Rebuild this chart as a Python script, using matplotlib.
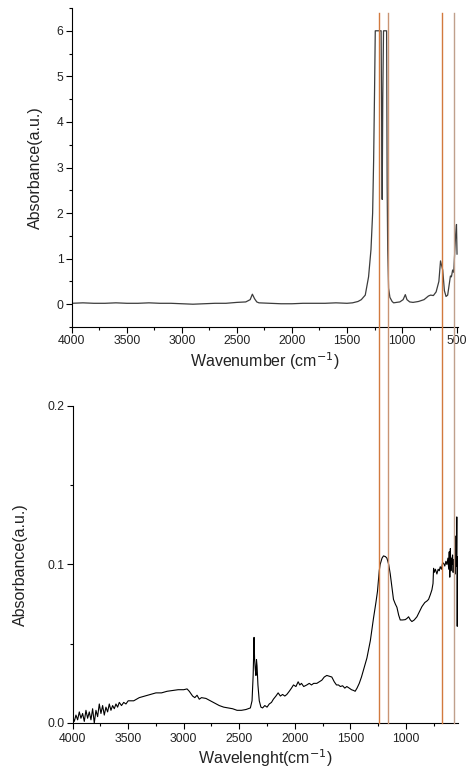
import matplotlib
matplotlib.use("Agg")
import matplotlib.pyplot as plt
from matplotlib.lines import Line2D
from matplotlib.ticker import MultipleLocator
from matplotlib.transforms import blended_transform_factory

plt.rcParams['font.family'] = ['Liberation Sans', 'DejaVu Sans']

# top panel: wavenumber (cm-1) / absorbance
top_wn = [4000, 3900, 3800, 3700, 3600, 3500, 3400, 3300, 3200, 3100, 3000, 2900,
          2800, 2700, 2600, 2500, 2420, 2380, 2360, 2340, 2320, 2300, 2200, 2100,
          2000, 1900, 1800, 1700, 1600, 1500, 1450, 1400, 1370, 1334, 1304, 1282,
          1267, 1258, 1250, 1243, 1190, 1185, 1180, 1175, 1168, 1140, 1135, 1130,
          1122, 1110, 1090, 1076, 1050, 1020, 990, 970, 955, 930, 900, 850, 800,
          760, 740, 715, 690, 665, 650, 630, 615, 600, 585, 570, 560, 551, 540,
          530, 521, 512, 505, 500]
top_abs = [0.02, 0.03, 0.02, 0.02, 0.03, 0.02, 0.02, 0.03, 0.02, 0.02, 0.01, 0.00,
           0.01, 0.02, 0.02, 0.04, 0.05, 0.10, 0.22, 0.12, 0.05, 0.03, 0.02, 0.01,
           0.01, 0.02, 0.02, 0.02, 0.03, 0.02, 0.03, 0.06, 0.10, 0.20, 0.60, 1.20,
           2.00, 3.15, 4.60, 6.00, 6.00, 4.00, 2.30, 4.50, 6.00, 6.00, 2.60, 1.20,
           0.35, 0.15, 0.06, 0.03, 0.04, 0.05, 0.10, 0.21, 0.10, 0.05, 0.04, 0.06,
           0.10, 0.18, 0.20, 0.19, 0.27, 0.50, 0.95, 0.75, 0.30, 0.17, 0.20, 0.45,
           0.62, 0.60, 0.75, 0.70, 1.14, 1.55, 1.75, 1.10]

# bottom panel
bot_wn = [4000, 3985, 3970, 3955, 3940, 3925, 3910, 3895, 3880, 3865, 3850, 3835,
          3820, 3805, 3790, 3775, 3760, 3745, 3730, 3715, 3700, 3685, 3670, 3655,
          3640, 3625, 3610, 3595, 3580, 3560, 3540, 3520, 3500, 3450, 3400, 3350,
          3300, 3250, 3200, 3150, 3100, 3050, 3000, 2970, 2950, 2920, 2900, 2880,
          2860, 2840, 2800, 2760, 2720, 2680, 2640, 2600, 2560, 2520, 2480, 2440,
          2400, 2385, 2375, 2367, 2362, 2356, 2350, 2345, 2340, 2332, 2320, 2305,
          2290, 2270, 2250, 2230, 2210, 2193, 2170, 2150, 2130, 2110, 2090, 2072,
          2050, 2030, 2012, 1990, 1970, 1955, 1940, 1920, 1892, 1870, 1850, 1830,
          1802, 1780, 1757, 1735, 1712, 1690, 1667, 1645, 1625, 1607, 1590, 1570,
          1550, 1532, 1510, 1490, 1470, 1457, 1440, 1420, 1400, 1380, 1351, 1320,
          1292, 1270, 1256, 1240, 1232, 1215, 1202, 1185, 1171, 1155, 1141, 1125,
          1112, 1095, 1081, 1065, 1051, 1030, 1006, 990, 976, 960, 946, 925, 901,
          880, 856, 830, 810, 796, 780, 766, 756, 751, 745, 735, 721, 710, 700,
          691, 680, 670, 661, 650, 640, 631, 622, 615, 610, 605, 600, 595, 590,
          586, 580, 575, 570, 565, 560, 555, 550, 546, 542, 538, 535, 530]
bot_abs = [0.004, 0.001, 0.005, 0.002, 0.007, 0.003, 0.006, 0.001, 0.008, 0.003, 0.007, 0.002,
           0.009, 0.000, 0.008, 0.004, 0.012, 0.006, 0.011, 0.005, 0.010, 0.007, 0.012, 0.008,
           0.011, 0.009, 0.012, 0.010, 0.013, 0.011, 0.013, 0.012, 0.014, 0.014, 0.016, 0.017,
           0.018, 0.019, 0.019, 0.020, 0.0205, 0.021, 0.021, 0.0215, 0.020, 0.017, 0.016, 0.0175,
           0.015, 0.016, 0.0155, 0.014, 0.0125, 0.011, 0.010, 0.0095, 0.009, 0.008, 0.008, 0.0085,
           0.0095, 0.014, 0.030, 0.054, 0.040, 0.034, 0.030, 0.040, 0.036, 0.024, 0.014, 0.010,
           0.0095, 0.011, 0.010, 0.012, 0.013, 0.015, 0.017, 0.019, 0.017, 0.018, 0.017, 0.018,
           0.020, 0.022, 0.024, 0.023, 0.026, 0.024, 0.025, 0.023, 0.024, 0.025, 0.024, 0.025,
           0.025, 0.026, 0.027, 0.029, 0.030, 0.0295, 0.029, 0.026, 0.024, 0.024, 0.023, 0.0235,
           0.022, 0.023, 0.022, 0.021, 0.0205, 0.020, 0.022, 0.025, 0.029, 0.034, 0.041, 0.052,
           0.066, 0.076, 0.083, 0.096, 0.100, 0.104, 0.1054, 0.105, 0.104, 0.100, 0.094, 0.085,
           0.078, 0.075, 0.073, 0.068, 0.065, 0.065, 0.0652, 0.066, 0.067, 0.065, 0.064, 0.065, 0.067,
           0.070, 0.0734, 0.076, 0.077, 0.078, 0.081, 0.084, 0.088, 0.0976, 0.095, 0.097, 0.094, 0.097, 0.096,
           0.0986, 0.097, 0.101, 0.1008, 0.099, 0.102, 0.100, 0.104, 0.097, 0.108, 0.092, 0.110, 0.096, 0.104,
           0.100, 0.106, 0.095, 0.103, 0.099, 0.108, 0.094, 0.118, 0.099, 0.130, 0.061, 0.105, 0.100]

# marker lines (wavenumber, colour)
mark_wn = [1213, 1125, 633, 524]
mark_col = ['#d27a3e', '#c99474', '#d27a3e', '#c0a08c']

txt = '#222222'

fig = plt.figure(figsize=(4.67, 7.78), dpi=100)
ax1 = fig.add_axes([0.154, 0.5797, 0.827, 0.41])
ax2 = fig.add_axes([0.1555, 0.0707, 0.8255, 0.4075])

ax1.plot(top_wn, top_abs, color='#3c3c3c', lw=0.9)
ax1.set_xlim(4000, 490)
ax1.set_ylim(-0.5, 6.5)
ax1.yaxis.set_major_locator(MultipleLocator(1))
ax1.yaxis.set_minor_locator(MultipleLocator(0.5))
ax1.set_xlabel('Wavenumber (cm$^{-1}$)', fontsize=11.5, color=txt, labelpad=2)
ax1.set_ylabel('Absorbance(a.u.)', fontsize=11.5, color=txt, labelpad=10)

ax2.plot(bot_wn, bot_abs, color='black', lw=0.8)
ax2.set_xlim(4000, 530)
ax2.set_ylim(0, 0.2)
ax2.yaxis.set_major_locator(MultipleLocator(0.1))
ax2.yaxis.set_minor_locator(MultipleLocator(0.05))
ax2.set_xlabel('Wavelenght(cm$^{-1}$)', fontsize=11.5, color=txt, labelpad=1)
ax2.set_ylabel('Absorbance(a.u.)', fontsize=11.5, color=txt, labelpad=14)

for ax in (ax1, ax2):
    ax.xaxis.set_major_locator(MultipleLocator(500))
    ax.xaxis.set_minor_locator(MultipleLocator(250))
    ax.spines['top'].set_visible(False)
    ax.spines['right'].set_visible(False)
    ax.spines['left'].set_linewidth(0.8)
    ax.spines['bottom'].set_linewidth(0.8)
    ax.tick_params(which='major', direction='out', length=4, width=0.8,
                   labelsize=8.8, labelcolor=txt, pad=2)
    ax.tick_params(which='minor', direction='out', length=2.5, width=0.8)

ax2.tick_params(axis='x', which='major', pad=3.5)
ax2.yaxis.set_major_formatter(matplotlib.ticker.FormatStrFormatter('%.1f'))

# vertical markers spanning both panels
tr = blended_transform_factory(ax1.transData, fig.transFigure)
for w, c in zip(mark_wn, mark_col):
    fig.lines.append(Line2D([w, w], [0.0707, 0.983], transform=tr, color=c, lw=1.0))

fig.savefig('out.png', dpi=100)
